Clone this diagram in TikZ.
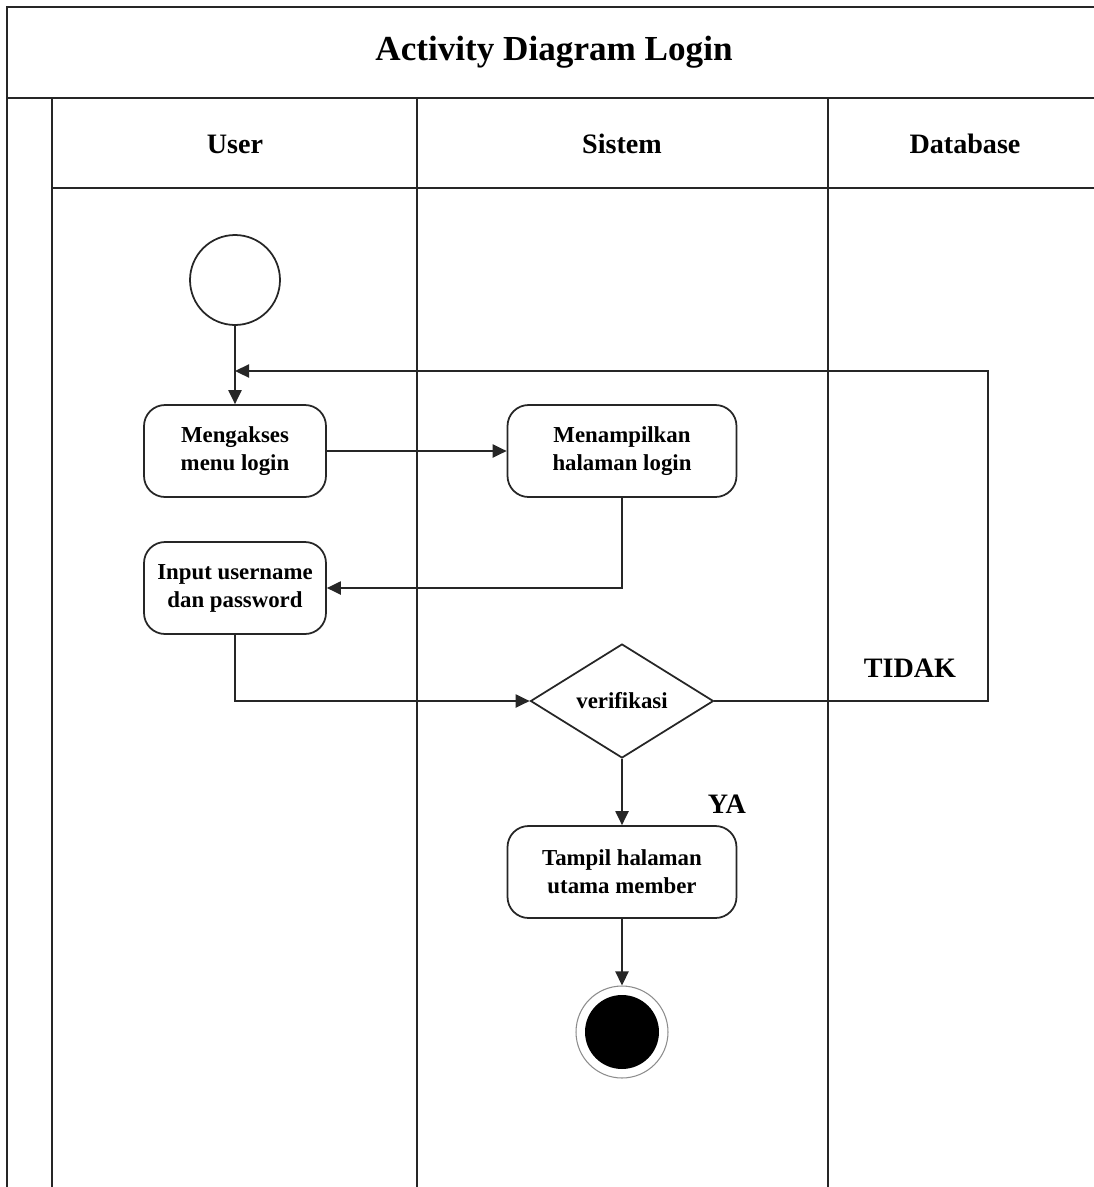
\documentclass[tikz,border=0pt]{standalone}
\usepackage{fontspec}
\setmainfont{Liberation Serif}
\usetikzlibrary{arrows.meta,shapes.geometric}

\tikzset{
  lane/.style={line width=1.1pt, draw=black!85},
  act/.style={draw=black!85, line width=1pt, rounded corners=0.42cm, align=center,
    inner sep=0pt, minimum height=1.84cm, font=\fontsize{13}{16}\selectfont\bfseries},
  decide/.style={draw=black!85, line width=1pt, shape=diamond, inner sep=0pt,
    minimum width=3.66cm, minimum height=2.28cm, font=\fontsize{13}{16}\selectfont\bfseries},
  flow/.style={draw=black!85, line width=1pt, -{Triangle[length=8pt,width=7.5pt]}},
  head/.style={font=\fontsize{16}{19}\selectfont\bfseries},
  guard/.style={font=\fontsize{16}{19}\selectfont\bfseries}
}

\begin{document}
\begin{tikzpicture}[x=0.02cm,y=-0.02cm]
  \useasboundingbox (0,0) rectangle (1094,1187);

  % swimlane frame
  \draw[lane] (1094,7) -- (7,7) -- (7,1187);
  \draw[lane] (7,98) -- (1094,98);
  \draw[lane] (52,188) -- (1094,188);
  \draw[lane] (52,98) -- (52,1187);
  \draw[lane] (417,98) -- (417,1187);
  \draw[lane] (828,98) -- (828,1187);

  % titles
  \node[font=\fontsize{20}{24}\selectfont\bfseries] (title) at (554,52) {Activity Diagram Login};
  \node[head] (huser) at (235,144) {User};
  \node[head] (hsys) at (622,144) {Sistem};
  \node[head] (hdb) at (965,144) {Database};

  % activities
  \node[draw=black!85, line width=1pt, circle, minimum size=1.8cm, inner sep=0pt] (start) at (235,280) {};
  \node[act, minimum width=3.64cm] (akses) at (235,451) {Mengakses\\menu login};
  \node[act, minimum width=4.58cm] (tampillogin) at (622,451) {Menampilkan\\halaman login};
  \node[act, minimum width=3.64cm] (input) at (235,588) {Input username\\dan password};
  \node[decide] (verif) at (622,701) {verifikasi};
  \node[act, minimum width=4.58cm] (member) at (622,872) {Tampil halaman\\utama member};
  \node[draw=black!45, line width=0.6pt, circle, minimum size=1.84cm, inner sep=0pt] (finish) at (622,1032) {};
  \fill[black] (finish.center) circle (0.74cm);

  \coordinate (loopin) at (235,371);
  \coordinate (loopcorner) at (988,701);

  % control flow
  \draw[flow] (start.south) -- (akses.north);
  \draw[flow] (akses) -- (tampillogin);
  \draw[flow] (tampillogin.south) |- (input.east);
  \draw[flow] (input.south) |- (verif.west);
  \draw[flow] (verif.east) -- (loopcorner) |- (loopin);
  \draw[flow] (verif.south) -- (member.north);
  \draw[flow] (member.south) -- (finish.north);

  % guards
  \node[guard] (tidak) at (910,668) {TIDAK};
  \node[guard] (ya) at (727,804) {YA};
\end{tikzpicture}
\end{document}
